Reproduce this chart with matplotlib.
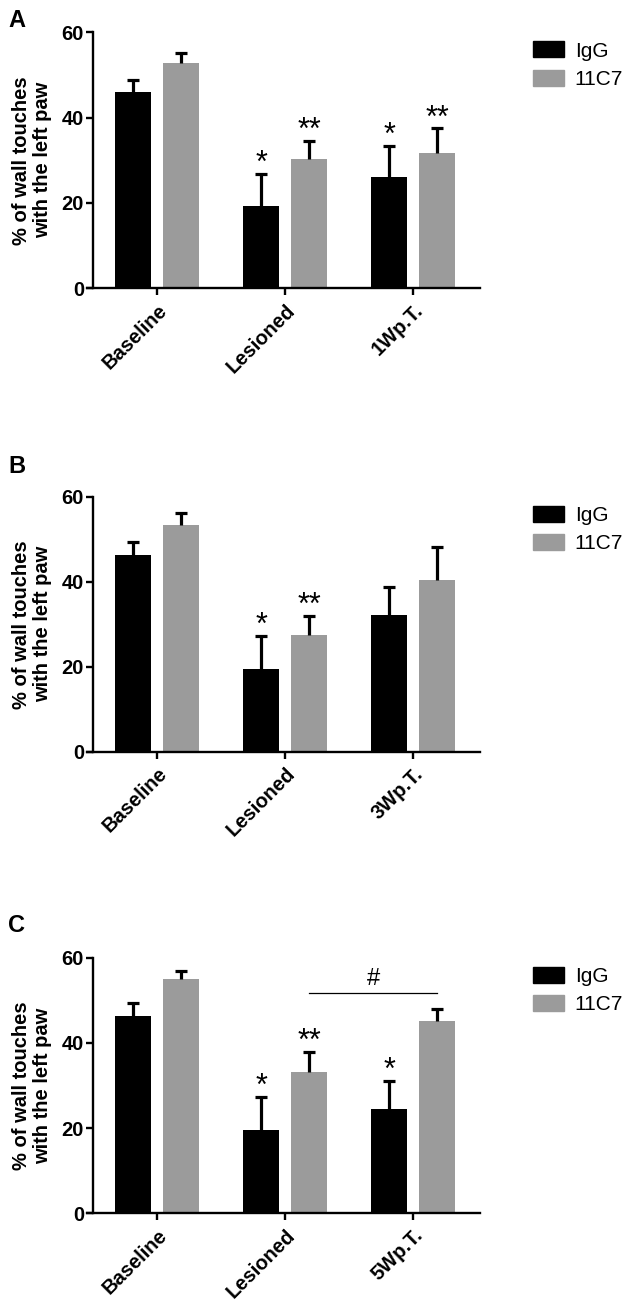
import matplotlib
matplotlib.use("Agg")
import matplotlib.pyplot as plt
import matplotlib.patches as mpatches
import numpy as np

plt.rcParams["font.family"] = ["Liberation Sans", "DejaVu Sans"]

W, H = 634, 1300

series_names = ["IgG", "11C7"]
series_colors = ["#000000", "#9b9b9b"]

# panel A
groups_a = ["Baseline", "Lesioned", "1Wp.T."]
igg_a = [46.0, 19.3, 26.0]
igg_a_err = [2.9, 7.6, 7.4]
c7_a = [52.9, 30.2, 31.8]
c7_a_err = [2.3, 4.3, 5.7]
igg_a_sig = ["", "*", "*"]
c7_a_sig = ["", "**", "**"]

# panel B
groups_b = ["Baseline", "Lesioned", "3Wp.T."]
igg_b = [46.3, 19.5, 32.2]
igg_b_err = [3.0, 7.7, 6.6]
c7_b = [53.3, 27.5, 40.5]
c7_b_err = [2.8, 4.4, 7.6]
igg_b_sig = ["", "*", ""]
c7_b_sig = ["", "**", ""]

# panel C
groups_c = ["Baseline", "Lesioned", "5Wp.T."]
igg_c = [46.3, 19.6, 24.6]
igg_c_err = [3.1, 7.8, 6.5]
c7_c = [54.9, 33.2, 45.1]
c7_c_err = [1.9, 4.7, 2.8]
igg_c_sig = ["", "*", "*"]
c7_c_sig = ["", "**", ""]
# bracket: between Lesioned 11C7 and 5Wp.T. 11C7
bracket_c = (1, 2, 51.7, "#")

yticks = [0, 20, 40, 60]
ylabel = "% of wall touches\nwith the left paw"

fig = plt.figure(figsize=(W / 100, H / 100), dpi=100)

# axes frames in pixels: (left, right, y of 0, y of 60)
frames = [(87, 480, 288.3, 32.3), (87, 480, 751.7, 496.7), (87, 480, 1213.3, 957.7)]
letters = [("A", 27), ("B", 473), ("C", 932)]

bw = 0.28
off = 0.187


def draw_panel(ax, groups, vals, errs, sigs, bracket=None):
    x = np.arange(len(groups))
    for i, (v, e, s) in enumerate(zip(vals, errs, sigs)):
        xs = x + (2 * i - 1) * off
        ax.bar(xs, v, width=bw, color=series_colors[i], label=series_names[i], zorder=2)
        eb = ax.errorbar(xs, v, yerr=[np.zeros(len(v)), e], fmt="none", ecolor="black",
                         elinewidth=2.3, capsize=4.5, capthick=2.3, zorder=3)
        # only the upper cap, as in the original
        eb.lines[1][0].set_visible(False)
        for xi, vi, ei, si in zip(xs, v, e, s):
            if si:
                ax.text(xi, vi + ei - 1.2, si, ha="center", va="bottom",
                        fontsize=22, color="black")
    if bracket is not None:
        g1, g2, yb, txt = bracket
        ax.plot([g1 + off, g2 + off], [yb, yb], color="black", lw=0.9)
        ax.text((g1 + g2) / 2 + off, yb + 0.8, txt, ha="center", va="bottom", fontsize=17)

    ax.set_xlim(-0.547, 2.52)
    ax.set_ylim(0, 60)
    ax.spines["top"].set_visible(False)
    ax.spines["right"].set_visible(False)
    ax.spines["left"].set_position(("data", -0.5))
    for sp in ("left", "bottom"):
        ax.spines[sp].set_linewidth(1.7)
    ax.set_yticks(yticks)
    ax.set_xticks(x)
    ax.set_xticklabels(groups, rotation=45, ha="right", va="top",
                       rotation_mode="anchor", fontsize=14.5, fontweight="bold")
    ax.tick_params(axis="both", width=1.7, length=5, direction="out")
    ax.tick_params(axis="y", labelsize=14.5, pad=1.5)
    ax.tick_params(axis="x", pad=4)
    for lab in ax.get_yticklabels():
        lab.set_fontweight("bold")
    ax.set_ylabel(ylabel, fontsize=14.5, fontweight="bold", linespacing=1.1)
    ax.yaxis.set_label_coords(-0.09, 0.5)


panels = [
    (groups_a, [igg_a, c7_a], [igg_a_err, c7_a_err], [igg_a_sig, c7_a_sig], None),
    (groups_b, [igg_b, c7_b], [igg_b_err, c7_b_err], [igg_b_sig, c7_b_sig], None),
    (groups_c, [igg_c, c7_c], [igg_c_err, c7_c_err], [igg_c_sig, c7_c_sig], bracket_c),
]

for (l, r, y0, y60), (letter, base), (g, v, e, s, b) in zip(frames, letters, panels):
    ax = fig.add_axes([l / W, 1 - y0 / H, (r - l) / W, (y0 - y60) / H])
    draw_panel(ax, g, v, e, s, b)
    handles = [mpatches.Patch(color=c) for c in series_colors]
    ax.legend(handles, series_names, loc="upper left",
              bbox_to_anchor=(533 / W, 1 - (y60 + 9) / H), bbox_transform=fig.transFigure,
              frameon=False, fontsize=15, borderpad=0, borderaxespad=0,
              handlelength=1.5, handleheight=0.8, handletextpad=0.5, labelspacing=0.45)
    fig.text(8 / W, 1 - base / H, letter, fontsize=17, fontweight="bold",
             ha="left", va="baseline")

fig.savefig("out.png", dpi=100)
